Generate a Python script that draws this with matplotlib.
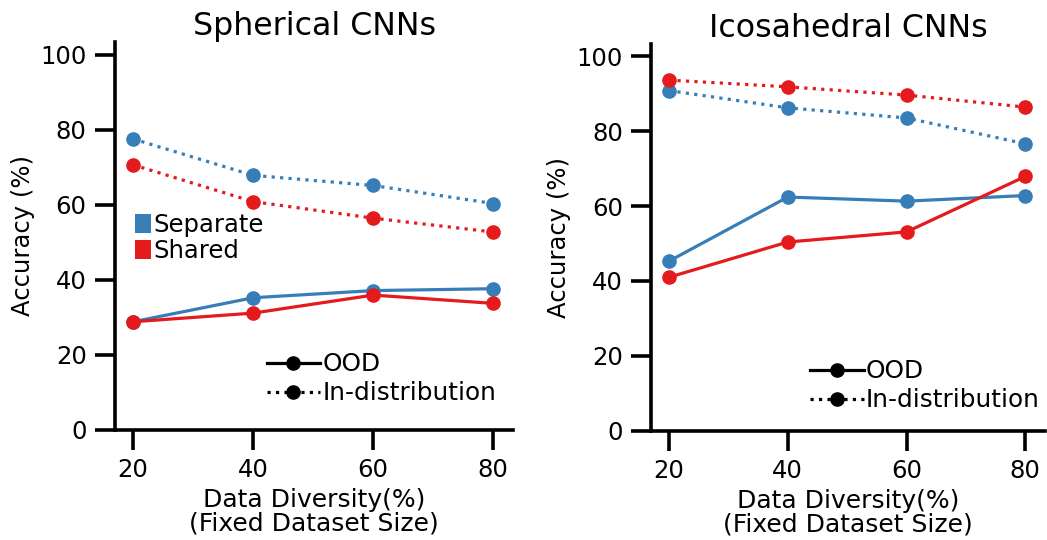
import matplotlib
matplotlib.use("Agg")
import matplotlib.pyplot as plt
from matplotlib.lines import Line2D
from matplotlib.patches import Patch

diversity = [20, 40, 60, 80]

# Spherical CNNs
sph_sep_ood = [28.8, 35.2, 37.1, 37.6]
sph_sh_ood = [28.8, 31.1, 35.9, 33.7]
sph_sep_ind = [77.5, 67.8, 65.1, 60.3]
sph_sh_ind = [70.6, 60.8, 56.4, 52.7]

# Icosahedral CNNs
ico_sep_ood = [45.3, 62.4, 61.3, 62.8]
ico_sh_ood = [41.0, 50.4, 53.1, 67.9]
ico_sep_ind = [90.8, 86.2, 83.5, 76.6]
ico_sh_ind = [93.6, 91.8, 89.6, 86.4]

titles = ["Spherical CNNs", "Icosahedral CNNs"]
xlabel = "Data Diversity(%)\n(Fixed Dataset Size)"
ylabel = "Accuracy (%)"
color_labels = ["Separate", "Shared"]
style_labels = ["OOD", "In-distribution"]
yticks = [0, 20, 40, 60, 80, 100]

BLUE = "#377eb8"
RED = "#e41a1c"

plt.rcParams["font.family"] = ["DejaVu Sans"]

fig = plt.figure(figsize=(10.47, 5.40), dpi=100)
ax1 = fig.add_axes([0.110, 0.204, 0.380, 0.718])
ax2 = fig.add_axes([0.622, 0.202, 0.376, 0.717])

data = [
    (ax1, sph_sep_ood, sph_sh_ood, sph_sep_ind, sph_sh_ind),
    (ax2, ico_sep_ood, ico_sh_ood, ico_sep_ind, ico_sh_ind),
]

lw = 2.3
ms = 9.5


def style_legend(ax, xanchor, yanchor):
    handles = [
        Line2D([0], [0], color="black", lw=lw, ls="-", marker="o", ms=ms),
        Line2D([0], [0], color="black", lw=lw, ls=":", marker="o", ms=ms),
    ]
    return ax.legend(handles, style_labels, loc="lower right",
                     bbox_to_anchor=(xanchor, yanchor), frameon=False, fontsize=17.8,
                     handlelength=2.15, handletextpad=0.1, labelspacing=0.2,
                     borderaxespad=0.2)


for i, (ax, sep_ood, sh_ood, sep_ind, sh_ind) in enumerate(data):
    ax.plot(diversity, sep_ood, color=BLUE, lw=lw, marker="o", ms=ms, ls="-")
    ax.plot(diversity, sh_ood, color=RED, lw=lw, marker="o", ms=ms, ls="-")
    ax.plot(diversity, sep_ind, color=BLUE, lw=lw, marker="o", ms=ms, ls=":")
    ax.plot(diversity, sh_ind, color=RED, lw=lw, marker="o", ms=ms, ls=":")
    ax.set_xlim(17, 83.3)
    ax.set_ylim(0, 103.3)
    ax.set_xticks(diversity)
    ax.set_yticks(yticks)
    for s in ["top", "right"]:
        ax.spines[s].set_visible(False)
    for s in ["left", "bottom"]:
        ax.spines[s].set_linewidth(2.6)
    ax.tick_params(axis="both", length=14.5, width=2.6, labelsize=17.5, pad=6)
    ax.set_title(titles[i], fontsize=22.8, pad=5)
    ax.set_xlabel(xlabel, fontsize=18, linespacing=1.0)
    ax.set_ylabel(ylabel, fontsize=17.5)
    if i == 1:
        style_legend(ax, 1.025, 0.01)

color_handles = [
    Patch(facecolor=BLUE, edgecolor="none"),
    Patch(facecolor=RED, edgecolor="none"),
]
leg = ax1.legend(color_handles, color_labels, loc="center left",
                 bbox_to_anchor=(0.005, 0.495), frameon=False, fontsize=17.5,
                 handlelength=0.65, handleheight=0.85, handletextpad=0.08,
                 labelspacing=0.1, borderaxespad=0.35)
style_legend(ax1, 0.995, 0.025)
ax1.add_artist(leg)

fig.savefig("out.png", dpi=100)
